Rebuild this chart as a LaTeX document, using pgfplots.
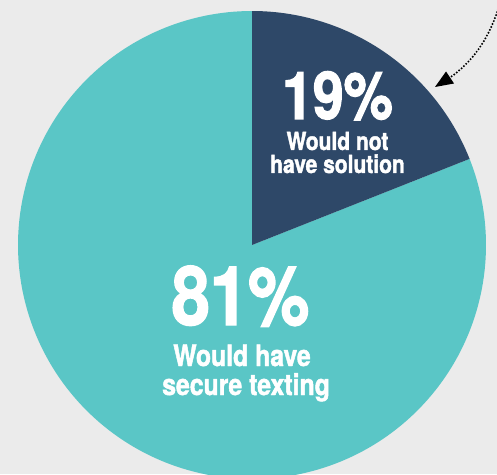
\documentclass[border=0pt]{standalone}
\usepackage{pgfplots}
\pgfplotsset{compat=1.18}
\usetikzlibrary{arrows.meta}
\usepackage{fontspec}
\setmainfont{TeX Gyre Heros}[FakeStretch=0.84, BoldFeatures={FakeBold=1.6}]
\definecolor{bg}{HTML}{EBEBEB}
\definecolor{teal}{HTML}{5AC6C6}
\definecolor{navy}{HTML}{2E4868}
\def\valA{19}
\def\valB{81}
\begin{document}
\begin{tikzpicture}
\fill[bg] (0,0) rectangle (497pt,474pt);
\useasboundingbox (0,0) rectangle (497pt,474pt);
\begin{axis}[at={(0,0)}, anchor=south west, scale only axis,
  width=497pt, height=474pt, xmin=0, xmax=497, ymin=0, ymax=474,
  hide axis, clip=true]
% 81% slice (teal)
\addplot[fill=teal, draw=none, samples=200, domain=90-\valA*3.6-\valB*3.6:90-\valA*3.6]
  ({252+234*cos(x)},{229+234*sin(x)}) -- (axis cs:252,229) -- cycle;
% 19% slice (navy)
\addplot[fill=navy, draw=none, samples=80, domain=90-\valA*3.6:90]
  ({252+234*cos(x)},{229+234*sin(x)}) -- (axis cs:252,229) -- cycle;
% dotted arrow
\draw[line width=2.2pt, line cap=round, dash pattern=on 0pt off 3.2pt]
  (axis cs:499,468) .. controls (axis cs:489,434) and (axis cs:471,411) .. (axis cs:450,396.5);
\fill[black] (axis cs:446,402.5) -- (axis cs:454,390.5) -- (axis cs:435,387) -- cycle;
% labels
\tikzset{lbl/.style={white, anchor=base, inner sep=0pt}}
\node[lbl, font=\bfseries\fontsize{66}{66}\selectfont] at (axis cs:337.5,355) {19\%};
\node[lbl, font=\bfseries\fontsize{25}{25}\selectfont] at (axis cs:337.5,324) {Would not};
\node[lbl, font=\bfseries\fontsize{25}{25}\selectfont] at (axis cs:337.5,301) {have solution};
\node[lbl, font=\bfseries\fontsize{82}{82}\selectfont] at (axis cs:240.5,149) {81\%};
\node[lbl, font=\bfseries\fontsize{29.5}{29.5}\selectfont] at (axis cs:242,108) {Would have};
\node[lbl, font=\bfseries\fontsize{29.5}{29.5}\selectfont] at (axis cs:246,79) {secure texting};
\end{axis}
\end{tikzpicture}
\end{document}
